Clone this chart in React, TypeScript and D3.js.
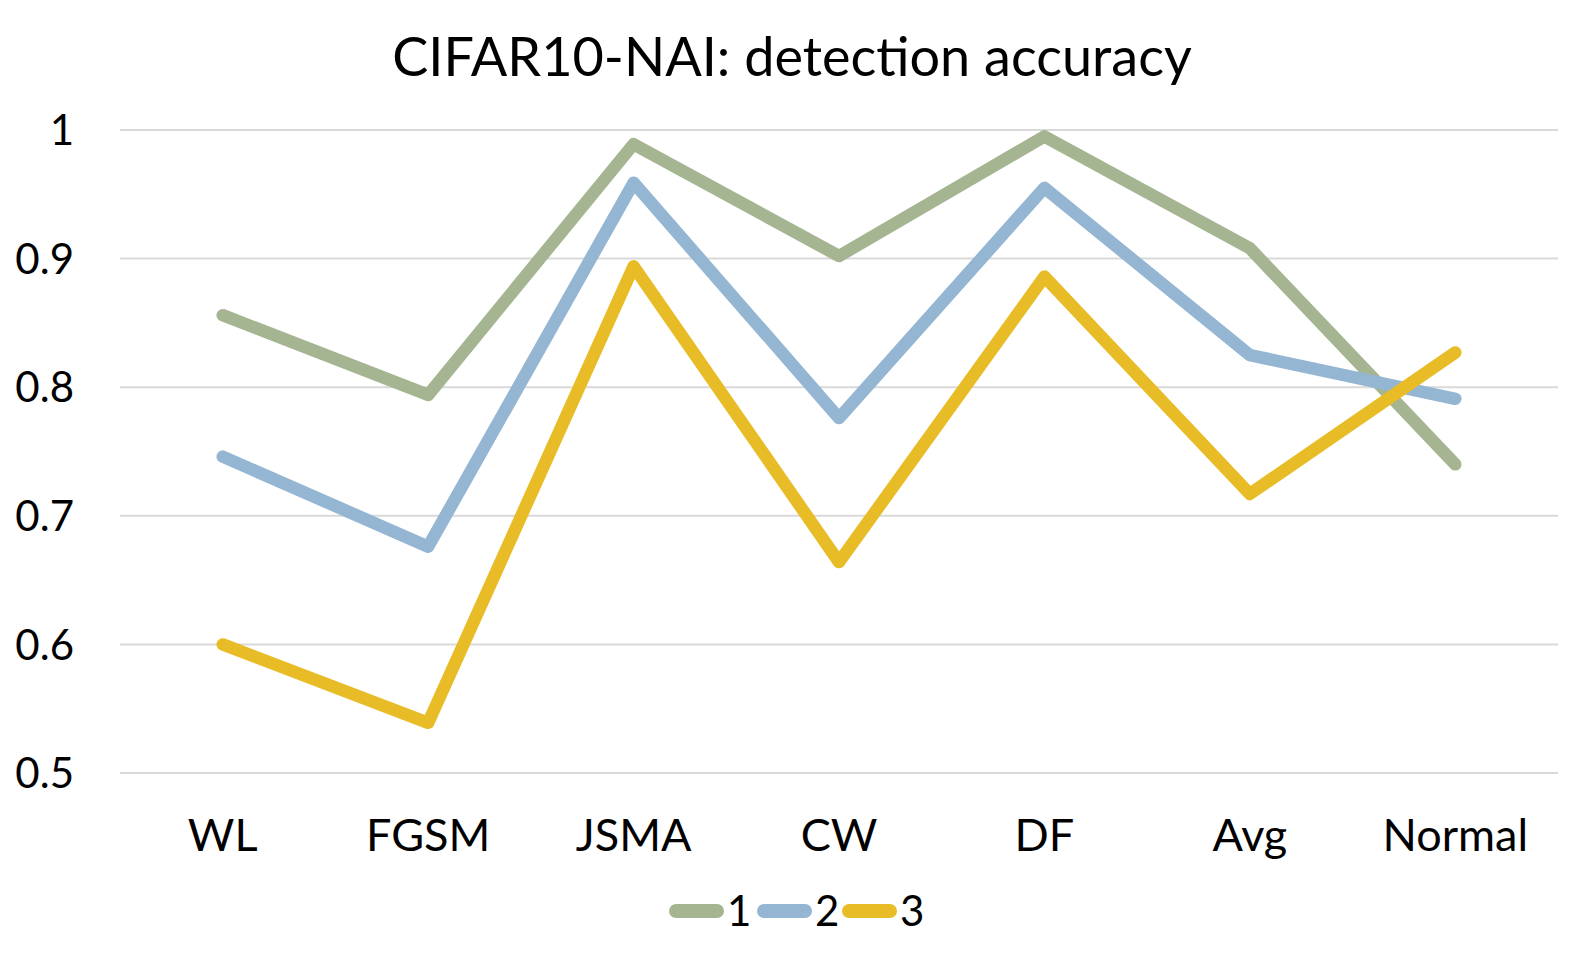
import React, { useEffect, useRef } from 'react';
import * as d3 from 'd3';

const categories = ['WL', 'FGSM', 'JSMA', 'CW', 'DF', 'Avg', 'Normal'];
const series1 = [0.856, 0.794, 0.989, 0.902, 0.995, 0.908, 0.740];
const series2 = [0.746, 0.676, 0.959, 0.776, 0.955, 0.825, 0.791];
const series3 = [0.600, 0.539, 0.894, 0.664, 0.886, 0.717, 0.827];
const seriesNames = ['1', '2', '3'];
const yTicks = [0.5, 0.6, 0.7, 0.8, 0.9, 1];

const colors = ['#a5b592', '#94b6d3', '#e8bc27'];
const font = 'Lato, "Open Sans", sans-serif';

const App = () => {
  const svgRef = useRef<SVGSVGElement>(null);
  const width = 1588;
  const height = 967;
  const margin = { top: 130, right: 30, bottom: 194, left: 120 };

  useEffect(() => {
    const svg = d3.select(svgRef.current);
    svg.selectAll('*').remove();

    const x = d3.scaleBand()
      .domain(categories)
      .range([margin.left, width - margin.right]);

    const y = d3.scaleLinear()
      .domain([0.5, 1])
      .range([height - margin.bottom, margin.top]);

    // horizontal gridlines
    svg.append('g')
      .selectAll('line')
      .data(yTicks)
      .join('line')
      .attr('x1', margin.left)
      .attr('x2', width - margin.right)
      .attr('y1', d => y(d))
      .attr('y2', d => y(d))
      .attr('stroke', '#d9d9d9')
      .attr('stroke-width', 2);

    // y tick labels
    svg.append('g')
      .selectAll('text')
      .data(yTicks)
      .join('text')
      .attr('x', 74)
      .attr('y', d => y(d))
      .attr('dy', '0.36em')
      .attr('text-anchor', 'end')
      .attr('font-family', font)
      .attr('font-size', 42)
      .attr('fill', '#000')
      .text(d => (d === 1 ? '1' : d.toFixed(1)));

    // category labels
    svg.append('g')
      .selectAll('text')
      .data(categories)
      .join('text')
      .attr('x', d => (x(d) ?? 0) + x.bandwidth() / 2)
      .attr('y', 851)
      .attr('text-anchor', 'middle')
      .attr('font-family', font)
      .attr('font-size', 45)
      .attr('fill', '#000')
      .text(d => d);

    const line = d3.line<number>()
      .x((_, i) => (x(categories[i]) ?? 0) + x.bandwidth() / 2)
      .y(d => y(d));

    [series1, series2, series3].forEach((s, i) => {
      svg.append('path')
        .datum(s)
        .attr('fill', 'none')
        .attr('stroke', colors[i])
        .attr('stroke-width', 12.5)
        .attr('stroke-linecap', 'round')
        .attr('stroke-linejoin', 'round')
        .attr('d', line);
    });

    // title
    svg.append('text')
      .attr('x', 792)
      .attr('y', 76)
      .attr('text-anchor', 'middle')
      .attr('font-family', font)
      .attr('font-size', 54)
      .attr('fill', '#000')
      .text('CIFAR10-NAI: detection accuracy');

    // legend
    const legendX = [669, 757, 842];
    const legend = svg.append('g');
    seriesNames.forEach((name, i) => {
      legend.append('line')
        .attr('x1', legendX[i] + 7)
        .attr('x2', legendX[i] + 48)
        .attr('y1', 911)
        .attr('y2', 911)
        .attr('stroke', colors[i])
        .attr('stroke-width', 14)
        .attr('stroke-linecap', 'round');
      legend.append('text')
        .attr('x', legendX[i] + 58)
        .attr('y', 911)
        .attr('dy', '0.36em')
        .attr('font-family', font)
        .attr('font-size', 42)
        .attr('fill', '#000')
        .text(name);
    });
  }, []);

  return (
    <svg
      ref={svgRef}
      width={width}
      height={height}
      style={{ position: 'absolute', left: 0, top: 0, background: '#fff' }}
    />
  );
};

export default App;
